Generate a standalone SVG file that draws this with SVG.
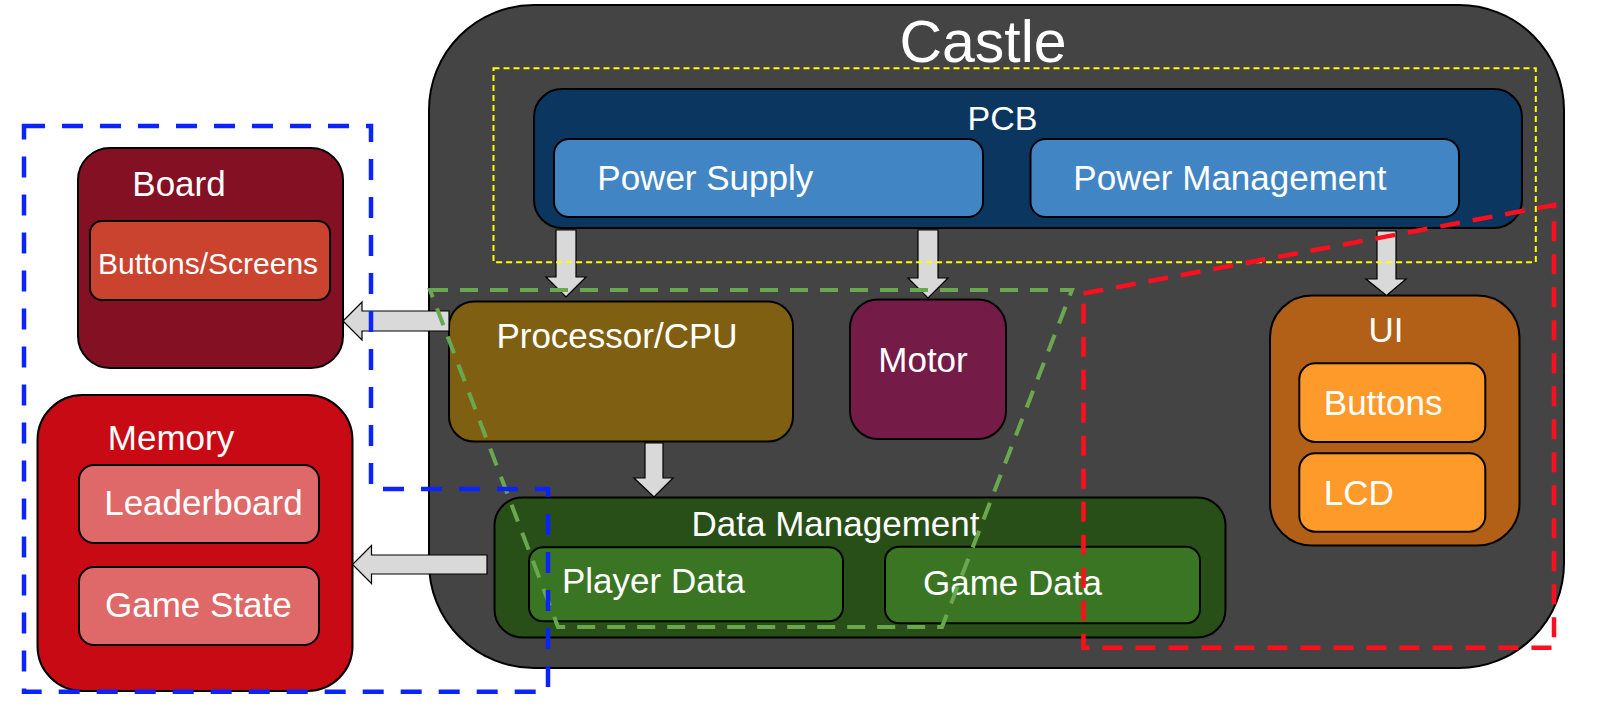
<svg xmlns="http://www.w3.org/2000/svg" width="1600" height="706" viewBox="0 0 1600 706">
<style>
  text { font-family: "Liberation Sans", Arial, sans-serif; fill: #ffffff; }
  .t35 { font-size: 35px; }
  .title { font-size: 59px; }
  .t34 { font-size: 34px; }
  .t30 { font-size: 30px; }
  .mid { text-anchor: middle; }
  .box { stroke: #000000; stroke-width: 2; }
  .arrow { fill: #d9d9d9; stroke: #000000; stroke-width: 1.2; }
  .dash { fill: none; }
</style>
<rect width="1600" height="706" fill="#ffffff"/>

<g id="castle">
  <rect class="box" x="429" y="5" width="1135" height="663" rx="105" fill="#444444"/>
  <text class="title mid" x="983" y="62">Castle</text>
</g>

<g id="pcb">
  <rect class="box" x="534" y="89" width="988" height="139" rx="28" fill="#0b365f"/>
  <text class="t34 mid" x="1002.5" y="130">PCB</text>
</g>
<g id="power-supply">
  <rect class="box" x="554" y="139" width="429" height="78" rx="15" fill="#4285c4"/>
  <text class="t35" x="597.3" y="190">Power Supply</text>
</g>
<g id="power-management">
  <rect class="box" x="1030.5" y="139" width="428.5" height="78" rx="15" fill="#4285c4"/>
  <text class="t35" x="1073.3" y="190">Power Management</text>
</g>

<g id="cpu">
  <rect class="box" x="449" y="301.5" width="344" height="140" rx="25" fill="#7f5f12"/>
  <text class="t35 mid" x="617" y="348">Processor/CPU</text>
</g>
<g id="motor">
  <rect class="box" x="850" y="299.5" width="156" height="139.5" rx="28" fill="#741b47"/>
  <text class="t35 mid" x="923" y="371.5">Motor</text>
</g>

<g id="data-management">
  <rect class="box" x="494.5" y="497.5" width="731" height="140" rx="28" fill="#284f17"/>
  <text class="t35 mid" x="835.5" y="535.5">Data Management</text>
</g>
<g id="player-data">
  <rect class="box" x="529" y="547.3" width="314" height="74" rx="14" fill="#3a7524"/>
  <text class="t35" x="562" y="592.5">Player Data</text>
</g>
<g id="game-data">
  <rect class="box" x="885" y="546.7" width="315" height="76.6" rx="14" fill="#3a7524"/>
  <text class="t35" x="923" y="595">Game Data</text>
</g>

<g id="ui">
  <rect class="box" x="1270" y="295.5" width="249.5" height="250" rx="42" fill="#b25f17"/>
  <text class="t35 mid" x="1386" y="341.5">UI</text>
</g>
<g id="buttons">
  <rect class="box" x="1299.3" y="363.3" width="186" height="78.7" rx="16" fill="#fe9a2a"/>
  <text class="t35" x="1323.8" y="415">Buttons</text>
</g>
<g id="lcd">
  <rect class="box" x="1299.3" y="453.3" width="186" height="78.4" rx="16" fill="#fe9a2a"/>
  <text class="t35" x="1323.8" y="505">LCD</text>
</g>

<g id="board">
  <rect class="box" x="78" y="148" width="265" height="220" rx="32" fill="#831023"/>
  <text class="t35 mid" x="179" y="196">Board</text>
</g>
<g id="buttons-screens">
  <rect class="box" x="90" y="221" width="240" height="79" rx="12" fill="#c9432f"/>
  <text class="t30 mid" x="208" y="274">Buttons/Screens</text>
</g>

<g id="memory">
  <rect class="box" x="37.5" y="395" width="315" height="296" rx="45" fill="#c80a15"/>
  <text class="t35 mid" x="171" y="450">Memory</text>
</g>
<g id="leaderboard">
  <rect class="box" x="79" y="465" width="240" height="78" rx="15" fill="#df6869"/>
  <text class="t35" x="104.2" y="515">Leaderboard</text>
</g>
<g id="game-state">
  <rect class="box" x="79" y="567" width="240" height="78" rx="15" fill="#df6869"/>
  <text class="t35" x="105" y="617">Game State</text>
</g>

<g id="connectors">
  <polygon class="arrow" points="556,230 576,230 576,277 586,277 566,297 546,277 556,277"/>
  <polygon class="arrow" points="918,230 938,230 938,278 948,278 928,298 908,278 918,278"/>
  <polygon class="arrow" points="1377,231 1396,231 1396,279 1406,279 1386.5,295.5 1366,279 1377,279"/>
  <polygon class="arrow" points="645,443 663,443 663,478 673,478 654,497 634,478 645,478"/>
  <polygon class="arrow" points="449,311 449,331 362,331 362,340 343,321 362,302 362,311"/>
  <polygon class="arrow" points="487,555 487,574 371.5,574 371.5,583.5 352.5,564.5 371.5,545.5 371.5,555"/>
</g>

<g id="groupings">
  <rect class="dash" x="493.5" y="68.3" width="1042.3" height="194" stroke="#ffff00" stroke-width="2" stroke-dasharray="6 4"/>
  <polygon class="dash" points="430,290 1072,290 942,627 558,627" stroke="#6aa84f" stroke-width="4" stroke-dasharray="18 12"/>
  <polygon class="dash" points="1083.5,293.5 1554,205 1554,647.7 1083.5,647.7" stroke="#ff0e1e" stroke-width="4.5" stroke-dasharray="20 13"/>
  <polygon class="dash" points="24,126 371,126 371,489 548,489 548,691.7 24,691.7" stroke="#0b24fb" stroke-width="4.5" stroke-dasharray="21 17"/>
</g>
</svg>
